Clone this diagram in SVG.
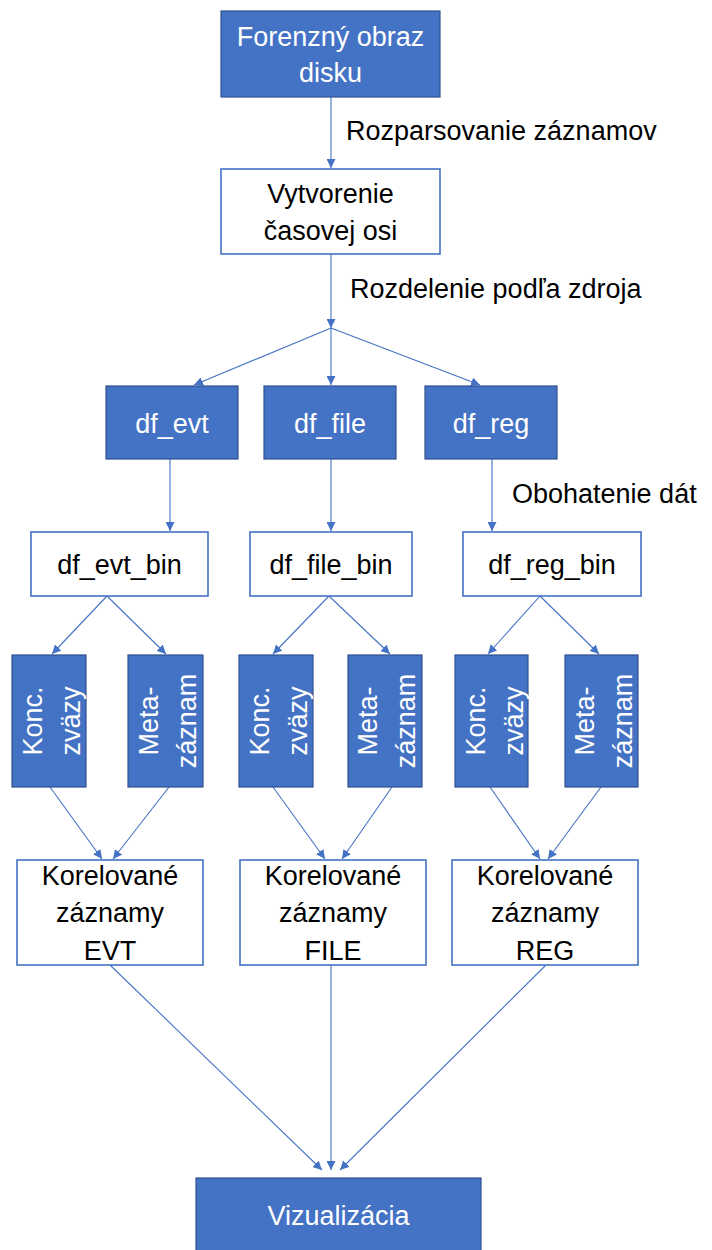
<svg xmlns="http://www.w3.org/2000/svg" width="712" height="1250" viewBox="0 0 712 1250">
  <style>
    .blue { fill: #4472C4; stroke: #2F528F; stroke-width: 1.2; }
    .white { fill: #FFFFFF; stroke: #4472C4; stroke-width: 1.6; }
    .t { font-family: "Liberation Sans", Arial, sans-serif; font-size: 27px; text-anchor: middle; }
    .tw { fill: #FFFFFF; }
    .tb { fill: #000000; }
    .lbl { font-family: "Liberation Sans", Arial, sans-serif; font-size: 27px; fill: #000000; }
    .c { stroke: #4472C4; stroke-width: 1.1; fill: none; marker-end: url(#arr); }
  </style>
  <defs>
    <marker id="arr" viewBox="0 0 10 10" refX="10" refY="5" markerWidth="9" markerHeight="9" markerUnits="userSpaceOnUse" orient="auto">
      <path d="M0,0 L10,5 L0,10 z" fill="#4472C4"/>
    </marker>
  </defs>

  <rect width="712" height="1250" fill="#FFFFFF"/>

  <!-- connectors -->
  <g id="connectors">
    <line class="c" x1="331" y1="97" x2="331" y2="168"/>
    <line class="c" x1="331" y1="254" x2="331" y2="328"/>
    <line class="c" x1="331" y1="328" x2="194" y2="385"/>
    <line class="c" x1="331" y1="328" x2="331" y2="385"/>
    <line class="c" x1="331" y1="328" x2="480" y2="385"/>
    <line class="c" x1="170" y1="459" x2="170" y2="531"/>
    <line class="c" x1="331" y1="459" x2="331" y2="531"/>
    <line class="c" x1="492" y1="459" x2="492" y2="531"/>
    <line class="c" x1="107" y1="596" x2="52" y2="654"/>
    <line class="c" x1="107" y1="596" x2="166" y2="654"/>
    <line class="c" x1="329" y1="596" x2="273" y2="654"/>
    <line class="c" x1="329" y1="596" x2="390" y2="654"/>
    <line class="c" x1="540" y1="596" x2="488" y2="654"/>
    <line class="c" x1="540" y1="596" x2="599" y2="654"/>
    <line class="c" x1="50" y1="787" x2="102" y2="859"/>
    <line class="c" x1="169" y1="787" x2="113" y2="859"/>
    <line class="c" x1="273" y1="787" x2="325" y2="859"/>
    <line class="c" x1="392" y1="787" x2="342" y2="859"/>
    <line class="c" x1="490" y1="787" x2="540" y2="859"/>
    <line class="c" x1="601" y1="787" x2="548" y2="859"/>
    <line class="c" x1="110" y1="965" x2="322" y2="1170"/>
    <line class="c" x1="331" y1="965" x2="331" y2="1170"/>
    <line class="c" x1="546" y1="965" x2="340" y2="1170"/>
  </g>

  <!-- edge labels -->
  <g id="labels">
    <text class="lbl" x="346" y="140">Rozparsovanie záznamov</text>
    <text class="lbl" x="350" y="298">Rozdelenie podľa zdroja</text>
    <text class="lbl" x="512" y="503">Obohatenie dát</text>
  </g>

  <g id="forenzny">
    <rect class="blue" x="221" y="11" width="219" height="86"/>
    <text class="t tw" x="330.5" y="46">Forenzný obraz</text>
    <text class="t tw" x="330.5" y="82">disku</text>
  </g>

  <g id="vytvorenie">
    <rect class="white" x="221" y="169" width="219" height="85"/>
    <text class="t tb" x="330.5" y="203">Vytvorenie</text>
    <text class="t tb" x="330.5" y="240">časovej osi</text>
  </g>

  <g id="df_evt">
    <rect class="blue" x="106" y="386" width="132" height="73"/>
    <text class="t tw" x="172" y="433">df_evt</text>
  </g>
  <g id="df_file">
    <rect class="blue" x="264" y="386" width="132" height="73"/>
    <text class="t tw" x="330" y="433">df_file</text>
  </g>
  <g id="df_reg">
    <rect class="blue" x="425" y="386" width="132" height="73"/>
    <text class="t tw" x="491" y="433">df_reg</text>
  </g>

  <g id="df_evt_bin">
    <rect class="white" x="31" y="532" width="177" height="64"/>
    <text class="t tb" x="119.5" y="574">df_evt_bin</text>
  </g>
  <g id="df_file_bin">
    <rect class="white" x="250" y="532" width="162" height="64"/>
    <text class="t tb" x="331" y="574">df_file_bin</text>
  </g>
  <g id="df_reg_bin">
    <rect class="white" x="463" y="532" width="178" height="64"/>
    <text class="t tb" x="552" y="574">df_reg_bin</text>
  </g>

  <!-- vertical-text boxes -->
  <g id="konc_evt">
    <rect class="blue" x="12" y="655" width="74" height="132"/>
    <g transform="translate(49,721) rotate(-90)">
      <text class="t tw" x="0" y="-7">Konc.</text>
      <text class="t tw" x="0" y="31">zväzy</text>
    </g>
  </g>
  <g id="meta_evt">
    <rect class="blue" x="128" y="655" width="75" height="132"/>
    <g transform="translate(165.5,721) rotate(-90)">
      <text class="t tw" x="0" y="-8">Meta-</text>
      <text class="t tw" x="0" y="30">záznam</text>
    </g>
  </g>
  <g id="konc_file">
    <rect class="blue" x="239" y="655" width="74" height="132"/>
    <g transform="translate(276,721) rotate(-90)">
      <text class="t tw" x="0" y="-7">Konc.</text>
      <text class="t tw" x="0" y="31">zväzy</text>
    </g>
  </g>
  <g id="meta_file">
    <rect class="blue" x="348" y="655" width="74" height="132"/>
    <g transform="translate(385,721) rotate(-90)">
      <text class="t tw" x="0" y="-8">Meta-</text>
      <text class="t tw" x="0" y="30">záznam</text>
    </g>
  </g>
  <g id="konc_reg">
    <rect class="blue" x="455" y="655" width="73" height="132"/>
    <g transform="translate(491.5,721) rotate(-90)">
      <text class="t tw" x="0" y="-7">Konc.</text>
      <text class="t tw" x="0" y="31">zväzy</text>
    </g>
  </g>
  <g id="meta_reg">
    <rect class="blue" x="565" y="655" width="73" height="132"/>
    <g transform="translate(601.5,721) rotate(-90)">
      <text class="t tw" x="0" y="-8">Meta-</text>
      <text class="t tw" x="0" y="30">záznam</text>
    </g>
  </g>

  <g id="kor_evt">
    <rect class="white" x="17" y="860" width="186" height="105"/>
    <text class="t tb" x="110" y="885">Korelované</text>
    <text class="t tb" x="110" y="922">záznamy</text>
    <text class="t tb" x="110" y="960">EVT</text>
  </g>
  <g id="kor_file">
    <rect class="white" x="240" y="860" width="186" height="105"/>
    <text class="t tb" x="333" y="885">Korelované</text>
    <text class="t tb" x="333" y="922">záznamy</text>
    <text class="t tb" x="333" y="960">FILE</text>
  </g>
  <g id="kor_reg">
    <rect class="white" x="452" y="860" width="186" height="105"/>
    <text class="t tb" x="545" y="885">Korelované</text>
    <text class="t tb" x="545" y="922">záznamy</text>
    <text class="t tb" x="545" y="960">REG</text>
  </g>

  <g id="vizualizacia">
    <rect class="blue" x="196" y="1178" width="285" height="90"/>
    <text class="t tw" x="338.5" y="1225">Vizualizácia</text>
  </g>
</svg>
